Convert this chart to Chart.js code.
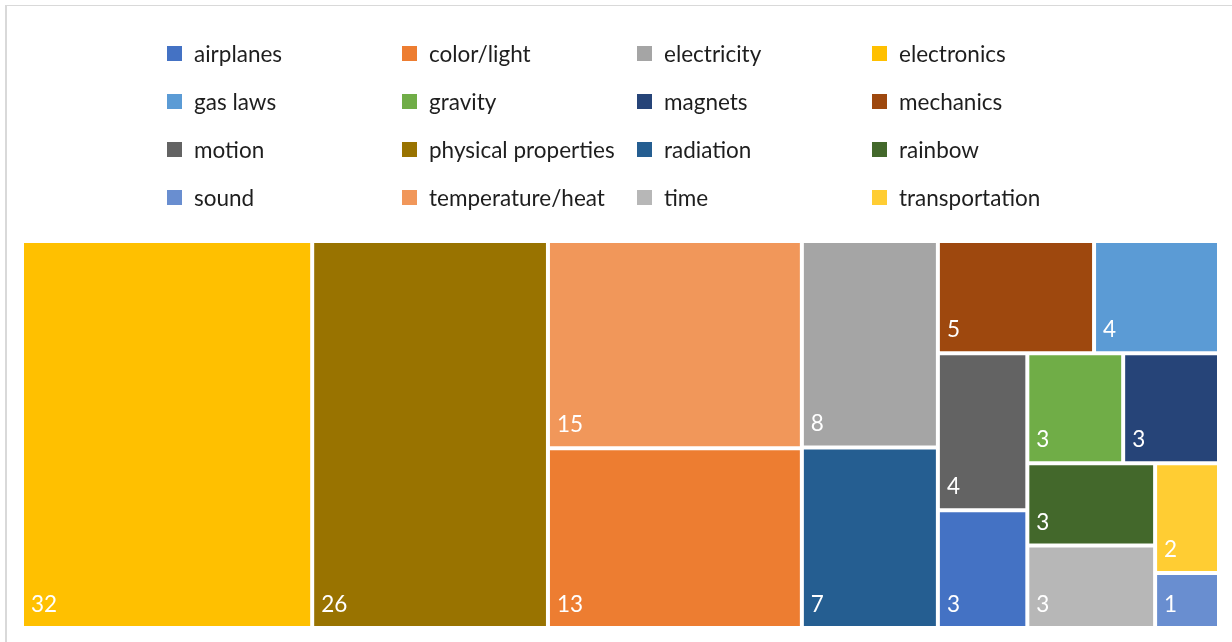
<!DOCTYPE html>
<html>
<head>
<meta charset="utf-8">
<script src="https://cdn.jsdelivr.net/npm/chart.js@4/dist/chart.umd.min.js"></script>
<style>
  html, body { margin: 0; padding: 0; background: #fff; }
  body { width: 1232px; height: 642px; position: relative; overflow: hidden; font-family: Lato, "Open Sans", sans-serif; }
  #frame { position: absolute; left: 5px; top: 5px; width: 1260px; height: 670px; border-left: 2px solid #d9d9d9; border-top: 1px solid #d9d9d9; }
  #chart { position: absolute; left: 0; top: 0; }
  #legend { position: absolute; left: 167px; top: 29px; display: grid; grid-template-columns: repeat(4, 235px); grid-auto-rows: 48px; }
  .item { display: flex; align-items: center; font-size: 22.5px; color: #1e1e1e; white-space: nowrap; }
  .sw { width: 15px; height: 15px; margin-right: 12px; flex: none; }
</style>
</head>
<body>
<div id="frame"></div>
<canvas id="chart" width="1232" height="642"></canvas>
<div id="legend"></div>
<script>
// Topics and how many items fall under each one
const categories = [
  'airplanes', 'color/light', 'electricity', 'electronics',
  'gas laws', 'gravity', 'magnets', 'mechanics',
  'motion', 'physical properties', 'radiation', 'rainbow',
  'sound', 'temperature/heat', 'time', 'transportation'
];
const counts = [3, 13, 8, 32, 4, 3, 3, 5, 4, 26, 7, 3, 1, 15, 3, 2];
const palette = [
  '#4472C4', '#ED7D31', '#A5A5A5', '#FFC000',
  '#5B9BD5', '#70AD47', '#264478', '#9E480E',
  '#636363', '#997300', '#255E91', '#43682B',
  '#698ED0', '#F1975A', '#B7B7B7', '#FFCD33'
];

// Squarified layout: largest values first, each strip laid along the shorter side,
// a strip grows while the newest tile keeps a better aspect ratio than the previous one.
function squarify(values, W, H) {
  const total = values.reduce((s, v) => s + v, 0);
  const k = W * H / total;
  const order = values.map((_, i) => i).sort((a, b) => values[b] - values[a] || a - b);
  const cells = new Array(values.length);
  const aspect = (area, t) => { const len = area / t; return Math.max(len / t, t / len); };
  let x = 0, y = 0, w = W, h = H, n = 0;
  while (n < order.length) {
    const alongHeight = h <= w;
    const side = alongHeight ? h : w;
    const row = [order[n]];
    let rowArea = values[order[n]] * k;
    let last = aspect(rowArea, rowArea / side);
    n++;
    while (n < order.length) {
      const a = values[order[n]] * k;
      const r = aspect(a, (rowArea + a) / side);
      if (r > last) break;
      row.push(order[n]);
      rowArea += a;
      last = r;
      n++;
    }
    const t = rowArea / side;
    let pos = 0;
    for (const idx of row) {
      const len = values[idx] * k / t;
      cells[idx] = alongHeight
        ? { x0: x, x1: x + t, y0: y + pos, y1: y + pos + len }
        : { x0: x + pos, x1: x + pos + len, y0: y, y1: y + t };
      pos += len;
    }
    if (alongHeight) { x += t; w -= t; } else { y += t; h -= t; }
  }
  return cells;
}

// Treemap controller: reuses bar elements, places them with the squarified layout
class TreemapController extends Chart.BarController {
  static id = 'treemap';
  static overrides = {
    scales: {
      _index_: { type: 'linear', offset: false, grid: { offset: false } },
      _value_: { type: 'linear' }
    }
  };
  updateElements(rects, start, count, mode) {
    const meta = this._cachedMeta;
    const xs = meta.xScale, ys = meta.yScale;
    const W = xs.width, H = ys.height;
    const cells = squarify(this.getDataset().data, W, H);
    for (let i = start; i < start + count; i++) {
      const c = cells[i];
      const left = xs.getPixelForValue(c.x0 / W);
      const right = xs.getPixelForValue(c.x1 / W);
      const top = ys.getPixelForValue(c.y0 / H);
      const bottom = ys.getPixelForValue(c.y1 / H);
      const properties = {
        horizontal: false,
        x: (left + right) / 2,
        y: top,
        base: bottom,
        width: right - left,
        height: bottom - top,
        inflateAmount: 0,
        borderSkipped: {},
        options: this.resolveDataElementOptions(i, mode)
      };
      this.updateElement(rects[i], i, properties, mode);
    }
  }
}
Chart.register(TreemapController);

// Value written in the lower-left corner of every tile
const tileValues = {
  id: 'tileValues',
  afterDatasetsDraw(chart) {
    const ctx = chart.ctx;
    const meta = chart.getDatasetMeta(0);
    const data = chart.data.datasets[0].data;
    ctx.save();
    ctx.fillStyle = '#ffffff';
    ctx.font = '22.5px Lato, "Open Sans", sans-serif';
    ctx.textAlign = 'left';
    ctx.textBaseline = 'alphabetic';
    meta.data.forEach((el, i) => {
      const { x, base, width } = el.getProps(['x', 'base', 'width'], true);
      const bw = el.options.borderWidth;
      ctx.fillText(String(data[i]), x - width / 2 + bw + 7, base - bw - 14);
    });
    ctx.restore();
  }
};

new Chart(document.getElementById('chart'), {
  type: 'treemap',
  data: {
    labels: categories,
    datasets: [{
      data: counts,
      backgroundColor: palette,
      borderColor: '#ffffff',
      borderWidth: 2,
      borderSkipped: false
    }]
  },
  options: {
    responsive: false,
    animation: false,
    events: [],
    layout: { autoPadding: false, padding: { left: 22, right: 13, top: 241, bottom: 14 } },
    scales: {
      x: { type: 'linear', display: false, min: 0, max: 1, offset: false },
      y: { type: 'linear', display: false, min: 0, max: 1, reverse: true }
    },
    plugins: { legend: { display: false }, tooltip: { enabled: false } }
  },
  plugins: [tileValues]
});

// Legend grid, four entries per row
const legend = document.getElementById('legend');
categories.forEach((name, i) => {
  const item = document.createElement('div');
  item.className = 'item';
  const sw = document.createElement('span');
  sw.className = 'sw';
  sw.style.background = palette[i];
  item.appendChild(sw);
  item.appendChild(document.createTextNode(name));
  legend.appendChild(item);
});
</script>
</body>
</html>
